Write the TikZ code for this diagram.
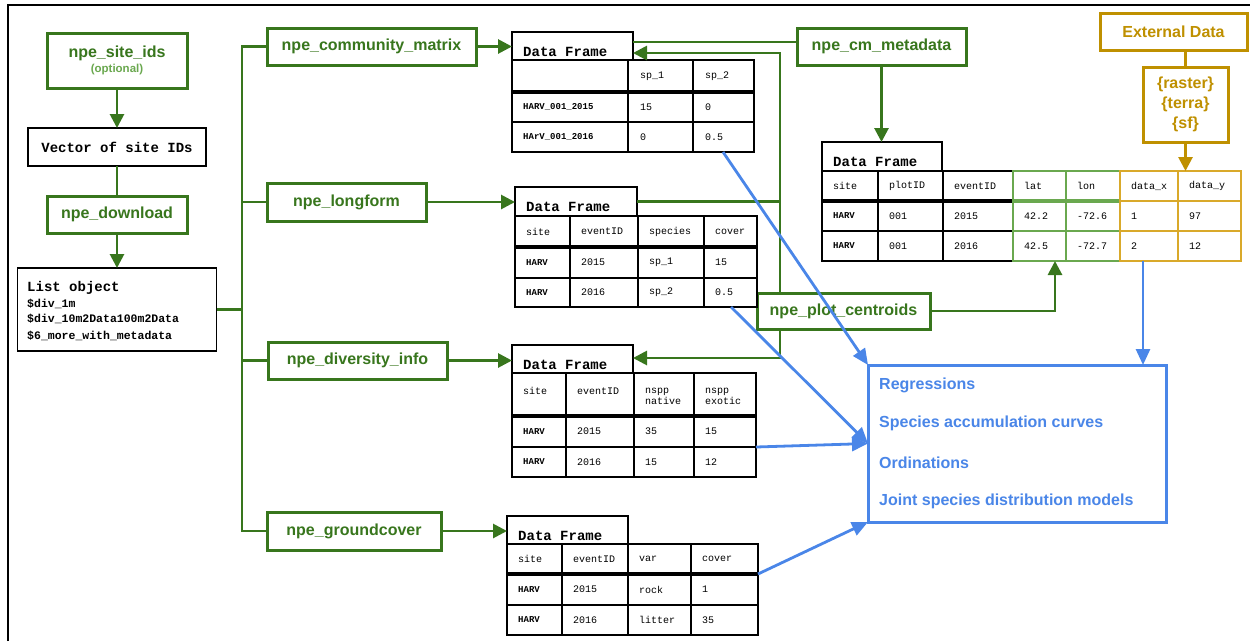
\documentclass[tikz,border=0pt]{standalone}
\usepackage{fontspec}
\setmainfont{Liberation Sans}
\newfontfamily\monof{Liberation Mono}
\usetikzlibrary{arrows.meta,calc}
\definecolor{gr}{HTML}{38761D}
\definecolor{grl}{HTML}{6AA84F}
\definecolor{gd}{HTML}{BF9000}
\definecolor{gdl}{HTML}{D9A92A}
\definecolor{bl}{HTML}{4A86E8}
\newcommand\grfont{\fontsize{16}{19}\selectfont\bfseries}
\tikzset{
 gbox/.style={draw=gr, line width=3pt, fill=white, text=gr, font=\grfont, inner sep=0pt, outer sep=0pt},
 kbox/.style={draw=black, line width=1.8pt, fill=white, inner sep=0pt, outer sep=0pt},
 obox/.style={draw=gd, line width=3pt, fill=white, text=gd, font=\grfont, inner sep=0pt, outer sep=0pt},
 bbox/.style={draw=bl, line width=3pt, fill=white, inner sep=0pt, outer sep=0pt},
 btext/.style={text=bl, font=\grfont, anchor=west, inner sep=0pt},
 gline/.style={draw=gr, line width=2.8pt},
 garrow/.style={gline, -{Triangle[length=14pt,width=14pt]}},
 oline/.style={draw=gd, line width=2.8pt},
 oarrow/.style={oline, -{Triangle[length=14pt,width=14pt]}},
 barrow/.style={draw=bl, line width=2.8pt, -{Triangle[length=16pt,width=14pt]}},
 tline/.style={draw=black, line width=1.8pt},
 hsep/.style={draw=black, line width=3.2pt},
 ttl/.style={draw=black, line width=1.8pt, fill=white, inner sep=0pt, outer sep=0pt},
 tbl/.style={draw=black, line width=1.8pt, fill=white, inner sep=0pt, outer sep=0pt},
 dft/.style={font=\monof\bfseries\fontsize{14}{16}\selectfont, anchor=base west, inner sep=0pt},
 cell/.style={font=\monof\fontsize{10}{11}\selectfont, anchor=west, inner sep=0pt, align=left},
 hcell/.style={font=\monof\bfseries\fontsize{9}{11}\selectfont, anchor=west, inner sep=0pt},
 lotext/.style={font=\monof\bfseries\fontsize{11.5}{13}\selectfont, anchor=west, inner sep=0pt},
}
\begin{document}
\begin{tikzpicture}[x=1pt,y=-1pt]
\useasboundingbox (0,0) rectangle (1250,641);
\draw[line width=2.2pt] (8,641) -- (8,5) -- (1250,5);

% left column
\node[gbox, minimum width=140pt, minimum height=55pt, align=center] (siteids) at (117,60.5)
  {npe\_site\_ids\\[-4pt]{\fontsize{11.5}{12}\selectfont\color{grl}(optional)}};
\node[kbox, minimum width=178pt, minimum height=38pt, font=\monof\bfseries\fontsize{14}{16}\selectfont] (vec) at (117,147) {Vector of site IDs};
\node[gbox, minimum width=140pt, minimum height=37pt] (download) at (117,214.5) {npe\_download};
\node[kbox, minimum width=199pt, minimum height=83pt] (lo) at (117,309.5) {};
\node[lotext, font=\monof\bfseries\fontsize{14}{16}\selectfont] (lo1) at (27,288) {List object};
\node[lotext] (lo2) at (27,304) {\$div\_1m};
\node[lotext] (lo3) at (27,319) {\$div\_10m2Data100m2Data};
\node[lotext] (lo4) at (27,336) {\$6\_more\_with\_metadata};
\draw[garrow] (siteids.south) -- (vec.north);
\draw[gline] (vec.south) -- (download.north);
\draw[garrow] (download.south) -- (lo.north);

% function boxes
\node[gbox, minimum width=209pt, minimum height=37pt] (comm) at (371.5,46.5) {npe\_community\_matrix};
\node[gbox, minimum width=159pt, minimum height=38pt] (longform) at (346.5,202) {npe\_longform};
\node[gbox, minimum width=179pt, minimum height=37pt] (divinfo) at (357.5,360.5) {npe\_diversity\_info};
\node[gbox, minimum width=174pt, minimum height=38pt] (ground) at (354,531) {npe\_groundcover};
\node[gbox, minimum width=169pt, minimum height=37pt] (cmmeta) at (881.5,46.5) {npe\_cm\_metadata};
\node[gbox, minimum width=173pt, minimum height=36pt] (centroids) at (843.5,311) {npe\_plot\_centroids};
\node[obox, minimum width=147pt, minimum height=37pt] (external) at (1173.5,31.5) {External Data};
\node[obox, minimum width=85pt, minimum height=75pt, align=center, font=\fontsize{16}{20}\selectfont\bfseries] (pkgs) at (1185.5,104.5) {\{raster\}\\\{terra\}\\\{sf\}};
\node[bbox, minimum width=298pt, minimum height=157pt] (an) at (1017,443.5) {};
\node[btext] (a1) at (879,385) {Regressions};
\node[btext] (a2) at (879,423) {Species accumulation curves};
\node[btext] (a3) at (879,463) {Ordinations};
\node[btext] (a4) at (879,501) {Joint species distribution models};

% ---- Table 1 (community matrix)
\node[ttl, minimum width=121pt, minimum height=28pt] (t1title) at (572.5,46) {};
\node[dft] (t1lab) at (523,56) {Data Frame};
\node[tbl, minimum width=242pt, minimum height=92pt] (t1) at (633,106) {};
\foreach \x in {628,693} \draw[tline] (\x,60) -- (\x,152);
\draw[tline] (512,122) -- (754,122);
\draw[hsep] (512,92) -- (754,92);
\foreach \x/\t [count=\i] in {640/sp\_1,705/sp\_2} \node[cell] (t1h\i) at (\x,76) {\t};
\node[hcell] (t1r1a) at (523,107) {HARV\_001\_2015};
\foreach \x/\t [count=\i] in {640/15,705/0} \node[cell] (t1r1c\i) at (\x,107) {\t};
\node[hcell] (t1r2a) at (523,137) {HArV\_001\_2016};
\foreach \x/\t [count=\i] in {640/0,705/0.5} \node[cell] (t1r2c\i) at (\x,137) {\t};

% ---- Table 2 (longform)
\node[ttl, minimum width=122pt, minimum height=29pt] (t2title) at (576,201.5) {};
\node[dft] (t2lab) at (526,211) {Data Frame};
\node[tbl, minimum width=242pt, minimum height=91pt] (t2) at (636,261.5) {};
\foreach \x in {570,638,704} \draw[tline] (\x,216) -- (\x,307);
\draw[tline] (515,278) -- (757,278);
\draw[hsep] (515,247) -- (757,247);
\foreach \x/\t [count=\i] in {526/site,581/eventID,649/species,715/cover} \node[cell] (t2h\i) at (\x,231.5) {\t};
\node[hcell] (t2r1a) at (526,262.5) {HARV};
\foreach \x/\t [count=\i] in {581/2015,649/sp\_1,715/15} \node[cell] (t2r1c\i) at (\x,262.5) {\t};
\node[hcell] (t2r2a) at (526,292.5) {HARV};
\foreach \x/\t [count=\i] in {581/2016,649/sp\_2,715/0.5} \node[cell] (t2r2c\i) at (\x,292.5) {\t};

% ---- Table 3 (diversity)
\node[ttl, minimum width=121pt, minimum height=28pt] (t3title) at (572.5,359) {};
\node[dft] (t3lab) at (523,369) {Data Frame};
\node[tbl, minimum width=244pt, minimum height=104pt] (t3) at (634,425) {};
\foreach \x in {566,634,694} \draw[tline] (\x,373) -- (\x,477);
\draw[tline] (512,447) -- (756,447);
\draw[hsep] (512,416) -- (756,416);
\node[cell] (t3h1) at (523,391) {site};
\node[cell] (t3h2) at (577,391) {eventID};
\node[cell] (t3h3) at (645,396.5) {nspp\\native};
\node[cell] (t3h4) at (705,396.5) {nspp\\exotic};
\node[hcell] (t3r1a) at (523,431.5) {HARV};
\foreach \x/\t [count=\i] in {577/2015,645/35,705/15} \node[cell] (t3r1c\i) at (\x,431.5) {\t};
\node[hcell] (t3r2a) at (523,462) {HARV};
\foreach \x/\t [count=\i] in {577/2016,645/15,705/12} \node[cell] (t3r2c\i) at (\x,462) {\t};

% ---- Table 4 (groundcover)
\node[ttl, minimum width=121pt, minimum height=28pt] (t4title) at (567.5,530) {};
\node[dft] (t4lab) at (518,540) {Data Frame};
\node[tbl, minimum width=251pt, minimum height=91pt] (t4) at (632.5,589.5) {};
\foreach \x in {562,628,691} \draw[tline] (\x,544) -- (\x,635);
\draw[tline] (507,605) -- (758,605);
\draw[hsep] (507,574) -- (758,574);
\foreach \x/\t [count=\i] in {518/site,573/eventID,639/var,702/cover} \node[cell] (t4h\i) at (\x,559) {\t};
\node[hcell] (t4r1a) at (518,589.5) {HARV};
\foreach \x/\t [count=\i] in {573/2015,639/rock,702/1} \node[cell] (t4r1c\i) at (\x,589.5) {\t};
\node[hcell] (t4r2a) at (518,620) {HARV};
\foreach \x/\t [count=\i] in {573/2016,639/litter,702/35} \node[cell] (t4r2c\i) at (\x,620) {\t};

% ---- Table 5 (metadata)
\node[ttl, minimum width=120pt, minimum height=29pt] (t5title) at (882,156.5) {};
\node[dft] (t5lab) at (833,166) {Data Frame};
\node[inner sep=0pt, outer sep=0pt, minimum width=419pt, minimum height=90pt] (t5) at (1031.5,216) {};
\fill[white] (822,171) rectangle (1241,261);
\draw[tline] (822,171) rectangle (1013,261);
\foreach \x in {878,943} \draw[tline] (\x,171) -- (\x,261);
\draw[tline] (822,231) -- (1013,231);
\draw[hsep] (822,201) -- (1013,201);
\draw[draw=grl, line width=1.8pt] (1013,171) rectangle (1120,261) (1066,171) -- (1066,261) (1013,231) -- (1120,231);
\draw[draw=grl, line width=3.2pt] (1013,201) -- (1120,201);
\draw[draw=gdl, line width=1.8pt] (1120,171) rectangle (1241,261) (1178,171) -- (1178,261) (1120,201) -- (1241,201) (1120,231) -- (1241,231);
\foreach \x/\t [count=\i] in {833/site,889/plotID,954/eventID,1024/lat,1077/lon,1131/data\_x,1189/data\_y} \node[cell] (t5h\i) at (\x,186) {\t};
\node[hcell] (t5r1a) at (833,216) {HARV};
\foreach \x/\t [count=\i] in {889/001,954/2015,1024/42.2,1077/-72.6,1131/1,1189/97} \node[cell] (t5r1c\i) at (\x,216) {\t};
\node[hcell] (t5r2a) at (833,246) {HARV};
\foreach \x/\t [count=\i] in {889/001,954/2016,1024/42.5,1077/-72.7,1131/2,1189/12} \node[cell] (t5r2c\i) at (\x,246) {\t};

% ---- green connectors
\coordinate (bus) at (242,310);
\draw[gline] (lo.east) -- (lo.east -| bus);
\draw[gline] (comm.west) -- (comm.west -| bus) -- (ground.west -| bus) -- (ground.west);
\draw[gline] (longform.west) -- (longform.west -| bus);
\draw[gline] (divinfo.west) -- (divinfo.west -| bus);
\draw[garrow] (comm.east) -- (comm.east -| t1title.west);
\draw[garrow] (longform.east) -- (longform.east -| t2title.west);
\draw[garrow] (divinfo.east) -- (divinfo.east -| t3title.west);
\draw[garrow] (ground.east) -- (ground.east -| t4title.west);
\coordinate (cmw) at ([yshift=4.5pt]cmmeta.west);
\draw[gline] (cmw) -- (cmw -| t1title.east);
\draw[garrow] (cmmeta.south) -- (cmmeta.south |- t5title.north);
\coordinate (j1) at (780,53);
\coordinate (j2) at (780,358);
\coordinate (j3) at (1055,311);
\draw[garrow] (centroids.north -| j1) -- (j1) -- (j1 -| t1title.east);
\draw[gline] (t2title.east) -- (t2title.east -| j1);
\draw[garrow] (centroids.south -| j2) -- (j2) -- (j2 -| t3title.east);
\draw[garrow] (centroids.east) -- (j3) -- (j3 |- t5.south);

% ---- gold connectors
\draw[oline] (pkgs.north) -- (pkgs.north |- external.south);
\draw[oarrow] (pkgs.south) -- (pkgs.south |- t5.north);

% ---- blue connectors
\draw[barrow] ([xshift=-31pt]t1.south east) -- (an.north west);
\draw[barrow] ([xshift=-26pt]t2.south east) -- (an.west);
\draw[barrow] ([yshift=30pt]t3.south east) -- (an.west);
\draw[barrow] ([yshift=-30pt]t4.north east) -- (an.south west);
\coordinate (bx) at ([xshift=-23pt]an.north east);
\draw[barrow] (t5.south -| bx) -- (bx);
\end{tikzpicture}
\end{document}
